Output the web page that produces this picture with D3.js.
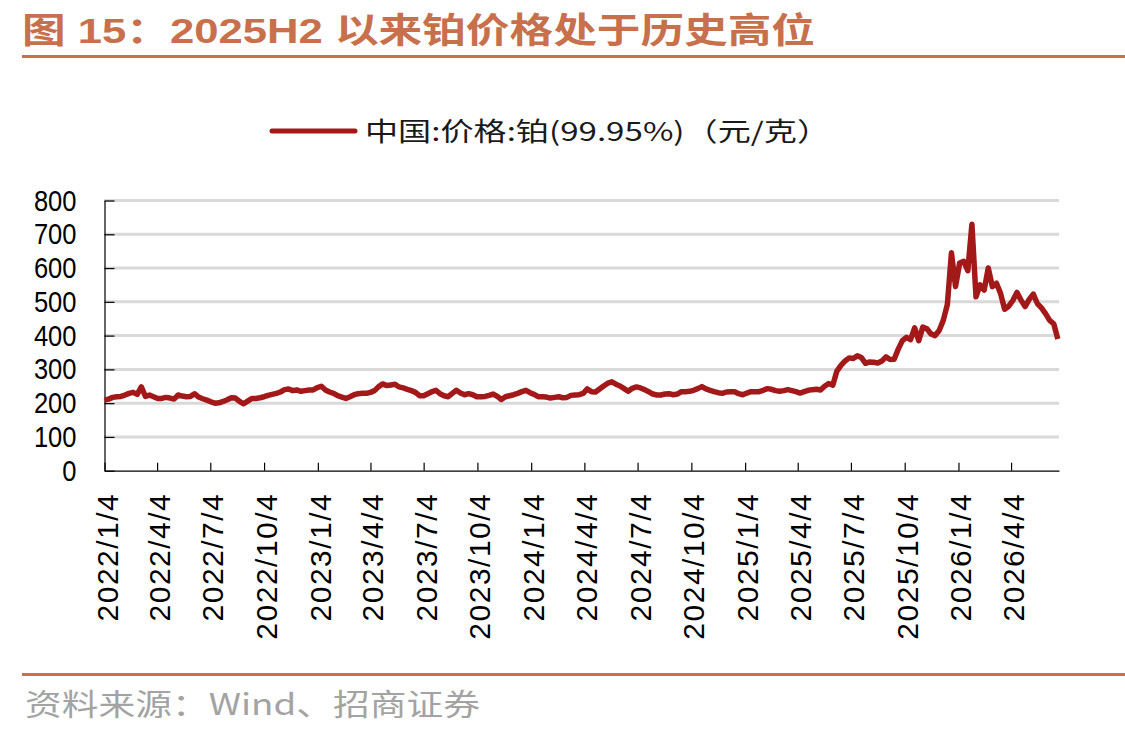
<!DOCTYPE html>
<html>
<head>
<meta charset="utf-8">
<script src="https://cdn.jsdelivr.net/npm/d3@7"></script>
<style>
  body { margin: 0; background: #fff; }
  svg { display: block; }
</style>
</head>
<body>
<svg id="chart" width="1125" height="735"></svg>
<script>
// weekly closes, first week 2022/1/4, yuan per gram
var startDate = '2022/1/4';
var stepDays = 7;
var endDate = '2026/6/25';

var prices = [
  209, 212, 217, 219, 220, 224, 229, 232, 226, 248,
  220, 224, 219, 214, 214, 217, 215, 212, 224, 221,
  219, 220, 228, 218, 213, 209, 204, 200, 201, 205,
  210, 216, 215, 205, 198, 206, 214, 214, 216, 219,
  223, 226, 229, 233, 240, 242, 237, 239, 235, 237,
  239, 239, 246, 250, 239, 233, 229, 222, 218, 214,
  219, 225, 228, 229, 229, 232, 237, 249, 257, 252,
  254, 256, 248, 245, 241, 237, 232, 222, 222, 228,
  234, 238, 228, 222, 219, 229, 238, 230, 225, 228,
  225, 219, 219, 220, 223, 227, 220, 211, 219, 222,
  225, 229, 234, 238, 231, 226, 219, 219, 218, 215,
  217, 219, 216, 217, 223, 224, 225, 229, 242, 234,
  233, 242, 251, 259, 263, 256, 251, 243, 235, 244,
  248, 245, 240, 234, 227, 224, 224, 227, 228, 225,
  227, 234, 234, 235, 238, 243, 249, 242, 238, 234,
  231, 229, 233, 234, 234, 228, 225, 230, 234, 234,
  234, 238, 243, 241, 237, 235, 237, 240, 237, 234,
  230, 234, 238, 240, 241, 239, 250, 258, 253, 295,
  312, 325, 334, 332, 340, 335, 318, 322, 321, 319,
  325, 337, 329, 330, 360, 385, 395, 388, 423, 385,
  425, 420, 405, 400, 415, 445, 492, 645, 545, 615,
  620, 592, 730, 515, 550, 535, 600, 545, 555, 525,
  478, 487, 504, 528, 505, 486, 507, 523, 495, 482,
  465, 445, 435, 390
];

var xTickLabels = ['2022/1/4', '2022/4/4', '2022/7/4', '2022/10/4', '2023/1/4', '2023/4/4',
  '2023/7/4', '2023/10/4', '2024/1/4', '2024/4/4', '2024/7/4', '2024/10/4', '2025/1/4',
  '2025/4/4', '2025/7/4', '2025/10/4', '2026/1/4', '2026/4/4'];
var yTicks = [0, 100, 200, 300, 400, 500, 600, 700, 800];

var titleText = '图 15：2025H2 以来铂价格处于历史高位';
var legendText = '中国:价格:铂(99.95%)（元/克）';
var sourceText = '资料来源：Wind、招商证券';

var parseDate = d3.utcParse('%Y/%m/%d');
var t0 = parseDate(startDate);
var series = prices.map(function(v, i) {
  return { date: d3.utcDay.offset(t0, i * stepDays), value: v };
});

var svg = d3.select('#chart');
var accent = '#c8704c';
var lineColor = '#a31919';

var x = d3.scaleUtc()
  .domain([t0, parseDate(endDate)])
  .range([104.5, 1059]);
var y = d3.scaleLinear()
  .domain([0, 800])
  .range([470.7, 200.5]);

// title + rules
svg.append('text')
  .attr('x', 22).attr('y', 43)
  .attr('textLength', 793).attr('lengthAdjust', 'spacingAndGlyphs')
  .style('font-family', '"Liberation Sans", "Noto Sans CJK SC", sans-serif')
  .style('font-weight', 'bold').style('font-size', '35px')
  .style('fill', accent)
  .text(titleText);
svg.append('rect').attr('x', 22).attr('y', 55).attr('width', 1103).attr('height', 3).attr('fill', accent);
svg.append('rect').attr('x', 22).attr('y', 673).attr('width', 1103).attr('height', 3).attr('fill', accent);

svg.append('text')
  .attr('x', 25).attr('y', 715)
  .attr('textLength', 455).attr('lengthAdjust', 'spacingAndGlyphs')
  .style('font-family', '"Noto Sans CJK SC", sans-serif')
  .style('font-size', '30px').style('fill', '#a3a3a3')
  .text(sourceText);

// legend
svg.append('line')
  .attr('x1', 272).attr('x2', 355).attr('y1', 131).attr('y2', 131)
  .attr('stroke', lineColor).attr('stroke-width', 5).attr('stroke-linecap', 'round');
svg.append('text')
  .attr('x', 365).attr('y', 141)
  .attr('textLength', 465).attr('lengthAdjust', 'spacingAndGlyphs')
  .style('font-family', '"Noto Sans CJK SC", sans-serif')
  .style('font-size', '26px').style('fill', '#1a1a1a')
  .text(legendText);

// grid
svg.append('g').selectAll('line')
  .data(yTicks.filter(function(d) { return d > 0; }))
  .join('line')
  .attr('x1', 104).attr('x2', 1059)
  .attr('y1', function(d) { return y(d); }).attr('y2', function(d) { return y(d); })
  .attr('stroke', '#d9d9d9').attr('stroke-width', 3);

// y axis, ticks point inward
var yAxis = svg.append('g')
  .attr('transform', 'translate(104.5,0)')
  .call(d3.axisLeft(y).tickValues(yTicks).tickSizeInner(-10).tickSizeOuter(0).tickPadding(28));
yAxis.selectAll('text')
  .attr('textLength', function(d) { return String(d).length * 14.2; })
  .attr('lengthAdjust', 'spacingAndGlyphs')
  .style('font-family', '"Liberation Sans", Arial, sans-serif')
  .style('font-size', '30px').style('fill', '#000');

// x axis
var xAxis = svg.append('g')
  .attr('transform', 'translate(0,470.7)')
  .call(d3.axisBottom(x).tickValues(xTickLabels.map(parseDate)).tickSizeInner(-8).tickSizeOuter(0)
    .tickFormat(function(d, i) { return xTickLabels[i]; }));
xAxis.selectAll('text')
  .attr('transform', 'rotate(-90)')
  .attr('x', -22).attr('y', 2).attr('dy', '0.35em')
  .attr('text-anchor', 'end')
  .style('font-family', '"Liberation Sans", Arial, sans-serif')
  .style('font-size', '30px').style('letter-spacing', '1.5px').style('fill', '#000');

svg.selectAll('.domain, .tick line').attr('stroke', '#000').attr('stroke-width', 1.2);

// price line
var line = d3.line()
  .x(function(d) { return x(d.date); })
  .y(function(d) { return y(d.value); });

svg.append('path')
  .datum(series)
  .attr('d', line)
  .attr('fill', 'none')
  .attr('stroke', lineColor)
  .attr('stroke-width', 5.5)
  .attr('stroke-linejoin', 'round');
</script>
</body>
</html>
